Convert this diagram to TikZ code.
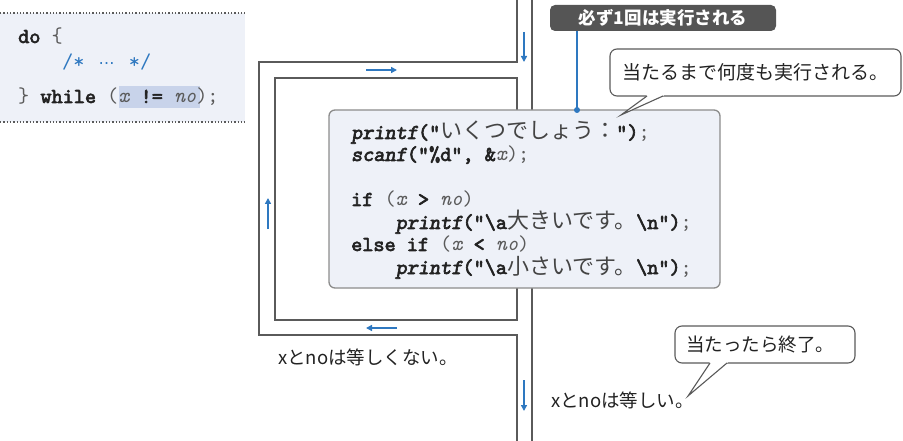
\documentclass[tikz,border=0pt]{standalone}
\usepackage{fontspec}
\setmonofont{lmmono10-regular.otf}[
  BoldFont=lmmono10-regular.otf, BoldFeatures={FakeBold=3},
  ItalicFont=lmmono10-italic.otf,
  BoldItalicFont=lmmonoslant10-regular.otf, BoldItalicFeatures={FakeBold=3}]
\newfontfamily\jp{Noto Sans CJK JP}
\newfontfamily\dv{DejaVu Sans}
\usetikzlibrary{arrows.meta}
\definecolor{pipe}{HTML}{5A5A5A}
\definecolor{flow}{HTML}{2E78C0}
\definecolor{codebg}{HTML}{EEF1F8}
\definecolor{codeframe}{HTML}{8C8C8C}
\definecolor{hl}{HTML}{C8D3EA}
\definecolor{tagbg}{HTML}{555555}
\definecolor{dimtxt}{HTML}{5A5A5A}
\definecolor{codetxt}{HTML}{222222}
\definecolor{jptxt}{HTML}{444444}
\newcommand{\cj}[1]{{\fontsize{22}{22}\selectfont\jp\mdseries\upshape\color{jptxt}#1}}
\newcommand{\vr}[1]{{\mdseries\itshape\color{dimtxt}#1}}
\newcommand{\pr}[1]{{\mdseries\color{dimtxt}#1}}
\begin{document}
\begin{tikzpicture}[x=1pt,y=-1pt,
  wall/.style={draw=pipe,line width=1.8pt,line join=miter},
  flowarrow/.style={draw=flow,line width=1.5pt,-{Triangle[length=6pt,width=6pt]}},
  codeline/.style={anchor=base west,inner sep=0pt,text=codetxt,font=\fontsize{21.2}{22}\selectfont\ttfamily\bfseries},
  jplabel/.style={inner sep=0pt,text=codetxt,font=\fontsize{18.5}{18.5}\selectfont\jp},
  bubble/.style={draw=pipe,line width=1.1pt,fill=white}
]
\useasboundingbox (0,0) rectangle (903,441);

% ---- left code snippet ----
\fill[codebg] (0,13) rectangle (245,122);
\draw[pipe,line width=1.3pt,dotted] (0,13) -- (245,13);
\draw[pipe,line width=1.3pt,dotted] (0,122) -- (245,122);
\fill[hl] (119,86) rectangle (200,108);
\node[codeline] (s1) at (18,43) {do \pr{\{}};
\node[codeline] (s2) at (62,69) {\color{flow}\mdseries /* \makebox[22.2pt]{\dv\fontsize{16}{16}\selectfont ⋯} */};
\node[codeline] (s3) at (18,103) {\pr{\}} while \pr{(}\vr{x} != \vr{no}\pr{);}};

% ---- pipes ----
\coordinate (tl) at (517,0);
\coordinate (tr) at (532,0);
\coordinate (bl) at (517,441);
\coordinate (br) at (532,441);
\draw[wall] (tl) -- (517,62) -- (259,62) -- (259,335) -- (517,335) -- (bl);
\draw[wall] (275,78) rectangle (517,320);
\draw[wall] (tr) -- (br);

% ---- flow arrows ----
\coordinate (a1s) at (524,32); \coordinate (a1e) at (524,62);
\coordinate (a2s) at (366,70); \coordinate (a2e) at (397,70);
\coordinate (a3s) at (268,229); \coordinate (a3e) at (268,198);
\coordinate (a4s) at (397,328); \coordinate (a4e) at (366,328);
\coordinate (a5s) at (524,380); \coordinate (a5e) at (524,411);
\draw[flowarrow] (a1s) -- (a1e);
\draw[flowarrow] (a2s) -- (a2e);
\draw[flowarrow] (a3s) -- (a3e);
\draw[flowarrow] (a4s) -- (a4e);
\draw[flowarrow] (a5s) -- (a5e);

% ---- main code box ----
\draw[draw=codeframe,fill=codebg,line width=1.3pt,rounded corners=6pt] (329,110) rectangle (720,288);
\node[codeline] (c1) at (351,139) {\itshape printf\upshape("\cj{いくつでしょう：}")\pr{;}};
\node[codeline] (c2) at (351,161) {\itshape scanf\upshape("\%d", \&\vr{x}\pr{);}};
\node[codeline] (c3) at (351,206) {if \pr{(}\vr{x} > \vr{no}\pr{)}};
\node[codeline] (c4) at (395.5,229) {\itshape printf\upshape("\textbackslash a\cj{大きいです。}\textbackslash n")\pr{;}};
\node[codeline] (c5) at (351,251) {else if \pr{(}\vr{x} < \vr{no}\pr{)}};
\node[codeline] (c6) at (395.5,274) {\itshape printf\upshape("\textbackslash a\cj{小さいです。}\textbackslash n")\pr{;}};

% ---- tag: always once ----
\node[fill=tagbg,rounded corners=5pt,minimum width=226pt,minimum height=26pt,inner sep=0pt,
      text=white,font=\fontsize{17.5}{18}\selectfont\jp\bfseries] (tag) at (663,18) {必ず1回は実行される};
\coordinate (dot) at (577,110);
\draw[flow,line width=1.3pt] (tag.south -| dot) -- (dot);
\fill[flow] (dot) circle (3pt);

% ---- callout 1 ----
\draw[bubble,rounded corners=7pt] (610,49) rectangle (901,96);
\coordinate (p1a) at (647,96); \coordinate (p1b) at (663,96); \coordinate (p1t) at (621,115);
\fill[white] (645,94) -- (665,94) -- (p1b) -- (p1t) -- (p1a) -- cycle;
\draw[pipe,line width=1.1pt,line join=miter] (p1a) -- (p1t) -- (p1b);
\node[jplabel,font=\fontsize{19}{19}\selectfont\jp] (call1) at (755.5,72) {当たるまで何度も実行される。};

% ---- callout 2 ----
\draw[bubble,rounded corners=7pt] (675,326) rectangle (855,363);
\coordinate (p2a) at (710,363); \coordinate (p2b) at (727,363); \coordinate (p2t) at (688,396);
\fill[white] (708,361) -- (729,361) -- (p2b) -- (p2t) -- (p2a) -- cycle;
\draw[pipe,line width=1.1pt,line join=miter] (p2a) -- (p2t) -- (p2b);
\node[jplabel] (call2) at (760,345) {当たったら終了。};

% ---- condition labels ----
\node[jplabel,anchor=west] (ne) at (278,357) {xとnoは等しくない。};
\node[jplabel,anchor=west] (eq) at (551,400) {xとnoは等しい。};
\end{tikzpicture}
\end{document}
